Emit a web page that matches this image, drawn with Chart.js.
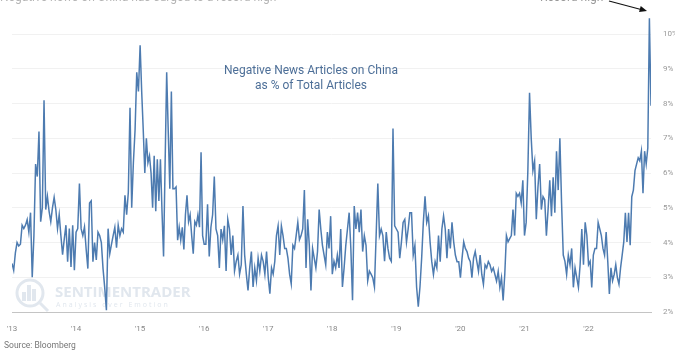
<!DOCTYPE html>
<html>
<head>
<meta charset="utf-8">
<script src="https://cdn.jsdelivr.net/npm/chart.js@4"></script>
<style>
  html, body { margin: 0; padding: 0; background: #fff; }
  #wrap { width: 675px; height: 353px; overflow: hidden; }
  canvas { display: block; }
</style>
</head>
<body>
<div id="wrap"><canvas id="grafico" width="685" height="353"></canvas></div>
<script>
// años del eje x y serie semanal (% de artículos negativos), por año
const anios = [2013, 2014, 2015, 2016, 2017, 2018, 2019, 2020, 2021, 2022];

const v2013 = [3.4, 3.2, 3.7, 4.0, 3.9, 3.95, 4.5, 4.4, 4.5, 4.66, 4.3, 4.86, 3.0, 4.2, 6.26, 5.9, 7.2, 4.6, 5.0, 8.1,
  4.95, 5.33, 4.9, 4.6, 5.0, 5.3, 4.95, 4.4, 4.8, 4.2, 3.65, 4.1, 4.5, 3.45, 4.4, 3.3, 4.5, 3.2];
const v2014 = [4.3, 4.4, 5.7, 4.4, 4.2, 4.45, 3.8, 3.25, 5.14, 5.2, 3.45, 4.0, 3.5, 4.3, 4.2, 4.0, 3.25, 2.7, 2.05, 4.4,
  3.68, 3.95, 4.2, 4.44, 3.85, 4.5, 4.2, 4.4, 4.3, 5.36, 4.8, 5.45, 7.88, 5.0, 6.3, 7.24, 8.9, 8.35];
const v2015 = [9.68, 8.35, 7.24, 6.0, 7.0, 6.3, 6.5, 6.0, 5.0, 6.5, 4.9, 6.4, 5.2, 6.4, 4.9, 3.6, 6.3, 8.9, 7.2, 5.55,
  8.35, 5.55, 5.55, 5.6, 4.07, 4.44, 4.07, 4.44, 3.8, 4.8, 5.36, 4.6, 4.8, 4.2, 3.68, 4.6, 4.5, 4.8, 4.44, 6.6, 4.2];
const v2016 = [3.95, 3.95, 5.1, 3.6, 4.44, 4.8, 5.9, 4.39, 4.2, 3.27, 4.39, 4.08, 4.48, 3.18, 4.67, 4.39, 3.64, 4.2, 3.18, 3.46,
  3.64, 3.09, 3.36, 5.05, 3.64, 3.09, 2.62, 3.27, 3.74, 2.72, 3.27, 2.9, 3.55, 3.18, 3.64, 3.46, 3.09, 3.74];
const v2017 = [2.99, 2.53, 3.27, 3.09, 3.46, 4.2, 4.48, 3.64, 4.48, 4.2, 3.83, 3.83, 3.55, 3.09, 2.81, 3.92, 3.83, 4.2, 4.58, 4.08,
  4.2, 4.39, 5.51, 3.27, 4.67, 3.92, 2.62, 3.83, 3.55, 3.27, 3.74, 4.95, 4.39, 3.92, 3.64, 3.36, 4.3, 3.83, 4.76];
const v2018 = [3.09, 3.46, 3.27, 3.64, 3.27, 4.39, 2.72, 3.27, 3.92, 4.39, 4.86, 3.83, 2.34, 5.05, 4.39, 4.86, 4.3, 4.95, 3.74, 4.2,
  3.92, 2.9, 3.18, 3.09, 2.99, 2.72, 4.2, 5.7, 4.2, 4.39, 4.2, 3.46, 4.3, 3.83, 3.55, 3.46, 7.28, 4.48];
const v2019 = [4.39, 4.3, 3.55, 4.01, 4.58, 4.67, 4.01, 4.39, 4.86, 4.86, 3.64, 3.92, 2.72, 2.15, 2.72, 3.55, 4.58, 5.33, 4.58, 4.77,
  4.02, 3.45, 3.08, 3.45, 3.27, 4.2, 3.45, 4.39, 4.77, 4.39, 3.55, 4.39, 3.83, 4.58, 4.02, 3.64, 3.45, 3.45];
const v2020 = [2.99, 3.55, 4.02, 3.83, 3.74, 3.55, 3.45, 2.99, 3.55, 3.74, 3.45, 3.17, 3.64, 3.08, 2.8, 3.36, 3.27, 3.45, 3.36, 3.17,
  3.27, 3.08, 2.89, 3.17, 2.71, 2.99, 2.33, 3.08, 4.2, 4.02, 4.11, 4.2, 4.95, 4.2, 5.42, 5.33, 5.42, 5.14, 5.79];
const v2021 = [4.2, 4.58, 6.07, 8.31, 7.0, 6.07, 6.35, 4.67, 5.6, 6.26, 4.95, 5.32, 5.23, 4.2, 4.95, 5.79, 4.76, 5.88, 4.86, 6.63,
  5.51, 7.0, 5.14, 3.64, 3.46, 3.08, 3.64, 3.36, 3.83, 2.71, 3.27, 2.99, 2.71, 3.36, 4.39, 3.36, 4.58, 4.2];
const v2022 = [3.36, 3.46, 2.71, 3.64, 3.83, 3.83, 4.58, 4.39, 4.2, 3.83, 3.64, 4.3, 3.46, 2.52, 3.27, 2.9, 3.08, 3.36, 2.99, 2.8,
  3.27, 3.64, 4.02, 4.86, 4.02, 4.86, 3.92, 5.32, 5.51, 6.07, 6.26, 6.44, 6.35, 6.63, 5.42, 6.63, 6.26, 6.72, 10.46, 7.94];

const seriesPorAnio = [v2013, v2014, v2015, v2016, v2017, v2018, v2019, v2020, v2021, v2022];
const ticksY = [2, 3, 4, 5, 6, 7, 8, 9, 10];

const puntos = anios.flatMap((anio, i) =>
  seriesPorAnio[i].map((v, j) => ({ x: anio + j / seriesPorAnio[i].length, y: v })));
const ultimoX = puntos[puntos.length - 1].x;

const marcaAgua = {
  id: 'marcaAgua',
  beforeDatasetsDraw(chart) {
    const ctx = chart.ctx;
    ctx.save();
    ctx.strokeStyle = '#e1e7ee';
    ctx.fillStyle = '#e1e7ee';
    ctx.lineWidth = 3;
    ctx.beginPath();
    ctx.arc(30, 293, 13, 0, Math.PI * 2);
    ctx.stroke();
    ctx.fillRect(22, 292, 4, 9);
    ctx.fillRect(27, 285, 4, 16);
    ctx.fillRect(32, 289, 4, 12);
    ctx.beginPath();
    ctx.moveTo(40, 303);
    ctx.lineTo(48, 311);
    ctx.stroke();
    ctx.font = 'bold 15px "Open Sans"';
    ctx.fillText('SENTIMENTRADER', 55, 297);
    ctx.font = '7px "Open Sans"';
    ctx.letterSpacing = '2px';
    ctx.fillText('Analysis over Emotion', 56, 307);
    ctx.restore();
  }
};

const notas = {
  id: 'notas',
  afterDraw(chart) {
    const ctx = chart.ctx;
    ctx.save();
    ctx.textAlign = 'center';
    ctx.fillStyle = '#4d6f98';
    ctx.font = '12px Roboto';
    ctx.fillText('Negative News Articles on China', 311, 74);
    ctx.fillText('as % of Total Articles', 311, 89);

    ctx.textAlign = 'left';
    ctx.fillStyle = '#777';
    ctx.font = '8.5px Roboto';
    ctx.fillText('Source: Bloomberg', 4, 348);

    // textos superiores recortados por el borde
    ctx.fillStyle = '#b5b5b5';
    ctx.font = '12px Roboto';
    ctx.fillText('Negative news on China has surged to a record high', 0, 0.5);
    ctx.fillStyle = '#999';
    ctx.fillText('Record high', 540, 0.5);

    // flecha hacia el máximo
    ctx.strokeStyle = '#111';
    ctx.fillStyle = '#111';
    ctx.lineWidth = 1.2;
    ctx.beginPath();
    ctx.moveTo(609, 1);
    ctx.lineTo(641, 9.5);
    ctx.stroke();
    const ang = Math.atan2(10, 36);
    ctx.beginPath();
    ctx.moveTo(647, 11);
    ctx.lineTo(647 - 8 * Math.cos(ang - 0.4), 11 - 8 * Math.sin(ang - 0.4));
    ctx.lineTo(647 - 8 * Math.cos(ang + 0.4), 11 - 8 * Math.sin(ang + 0.4));
    ctx.closePath();
    ctx.fill();
    ctx.restore();
  }
};

new Chart(document.getElementById('grafico'), {
  type: 'line',
  data: {
    datasets: [{
      data: puntos,
      borderColor: '#4d7bb0',
      borderWidth: 1.5,
      pointRadius: 0,
      tension: 0,
      fill: false
    }]
  },
  options: {
    responsive: false,
    animation: false,
    devicePixelRatio: 1,
    layout: { padding: { left: 12, top: 8, right: 0, bottom: 0 } },
    plugins: { legend: { display: false }, tooltip: { enabled: false } },
    scales: {
      x: {
        type: 'linear',
        min: anios[0],
        max: ultimoX,
        afterBuildTicks: s => { s.ticks = anios.map(a => ({ value: a })); },
        afterFit: s => { s.height = 41; },
        grid: { display: false },
        border: { display: true, color: '#c4c4c4', width: 1 },
        ticks: {
          autoSkip: false,
          maxRotation: 0,
          padding: 4,
          color: '#888',
          font: { family: 'Roboto', size: 8 },
          callback: v => "'" + String(v).slice(2)
        }
      },
      y: {
        position: 'right',
        min: 2,
        max: 10.5,
        afterBuildTicks: s => { s.ticks = ticksY.map(t => ({ value: t })); },
        afterFit: s => { s.width = 34; },
        grid: { color: '#f1f1f1', drawTicks: false },
        border: { display: false },
        ticks: {
          padding: 12,
          color: '#999',
          font: { family: 'Roboto', size: 8 },
          callback: v => v + '%'
        }
      }
    }
  },
  plugins: [marcaAgua, notas]
});
</script>
</body>
</html>
